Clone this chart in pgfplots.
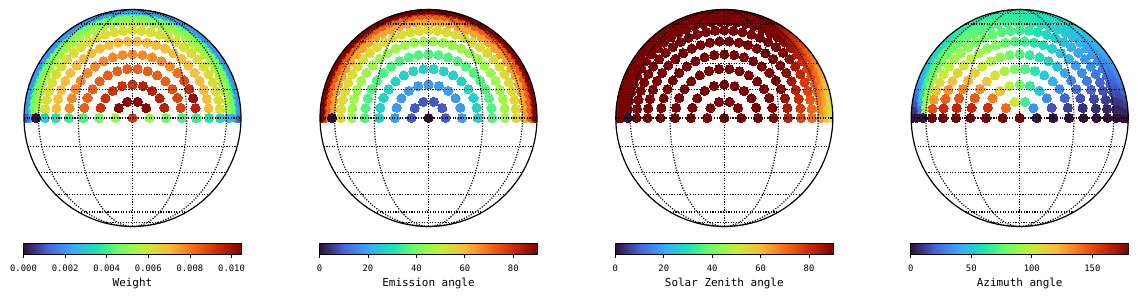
\documentclass[border=0pt]{standalone}
\usepackage{fontspec}
\setmainfont{DejaVu Sans Mono}
\usepackage{pgfplots}
\usepackage{pgfplotstable}
\pgfplotsset{compat=1.18}

% turbo colormap, sampled at ten equally spaced stops
\pgfplotsset{
  colormap={turbo}{rgb255=(48,18,59) rgb255=(70,98,215) rgb255=(54,170,249)
    rgb255=(26,228,182) rgb255=(114,254,94) rgb255=(199,239,52)
    rgb255=(250,186,57) rgb255=(246,107,25) rgb255=(203,42,4) rgb255=(122,4,3)},
  disk/.style={
    width=217bp, height=217bp, scale only axis,
    xmin=-1, xmax=1, ymin=-1, ymax=1,
    axis line style={draw=none}, ticks=none,
    anchor=center, clip marker paths=true,
    colorbar horizontal,
    colorbar style={
      at={(parent axis.south)}, anchor=north, yshift=-8.1bp,
      width=218bp, height=11bp, scaled x ticks=false,
      axis line style={line width=0.8bp, black},
      xtick pos=left, tick align=outside, major tick length=3.5bp,
      xtick style={line width=0.8bp, black},
      xticklabel style={font=\fontsize{8.9}{10}\selectfont, yshift=-3.5bp},
      xlabel style={font=\fontsize{11}{13}\selectfont},
    },
  },
  pts/.style={scatter, only marks, mark=*, mark size=4.6bp,
    point meta=explicit,
    scatter/use mapped color={draw=mapped color, fill=mapped color},
    mark options={line width=0pt}},
  % position of a direction on the disk from its ring angle and azimuth
  /pgfplots/table/diskxy/.style={
    x expr={sin(\thisrow{e})*cos(\thisrow{phi})},
    y expr={sin(\thisrow{e})*sin(\thisrow{phi})}},
}

% sample directions: ring angle e, azimuth phi on the disk,
% quadrature weight w, solar zenith angle sza, relative azimuth az
\pgfplotstableread{
e phi w sza az
0 0 0.0090 90 180
9 0 0.0052 90 0
9 36 0.0103 90 34
9 72 0.0103 90 68
9 108 0.0103 90 103
9 144 0.0103 90 141
9 180 0.0052 90 180
18 0 0.0046 90 0
18 18 0.0096 90 16
18 36 0.0096 90 32
18 54 0.0096 90 49
18 72 0.0096 90 65
18 90 0.0092 90 81
18 108 0.0092 90 98
18 126 0.0092 90 116
18 144 0.0092 90 136
18 162 0.0092 90 158
18 180 0.0046 90 180
27 0 0.0042 88 0
27 12 0.0089 90 11
27 24 0.0089 90 21
27 36 0.0087 90 32
27 48 0.0084 90 42
27 60 0.0084 90 52
27 72 0.0084 90 62
27 84 0.0084 90 72
27 96 0.0084 90 82
27 108 0.0084 90 93
27 120 0.0084 90 104
27 132 0.0084 90 116
27 144 0.0084 90 130
27 156 0.0084 90 145
27 168 0.0084 90 162
27 180 0.0042 90 180
36 0 0.0039 82 0
36 9 0.0096 84 8
36 18 0.0101 86 16
36 27 0.0093 89 24
36 36 0.0087 90 32
36 45 0.0081 90 39
36 54 0.0077 90 46
36 63 0.0077 90 53
36 72 0.0077 90 60
36 81 0.0077 90 67
36 90 0.0077 90 73
36 99 0.0077 90 80
36 108 0.0077 90 87
36 117 0.0077 90 94
36 126 0.0077 90 102
36 135 0.0077 90 111
36 144 0.0077 90 121
36 153 0.0077 90 133
36 162 0.0077 90 147
36 171 0.0077 90 163
36 180 0.0039 90 180
45 0 0.0035 76 0
45 7.2 0.0069 78 7
45 14.4 0.0069 80 13
45 21.6 0.0069 82 20
45 28.8 0.0069 85 26
45 36 0.0069 88 32
45 43.2 0.0069 90 38
45 50.4 0.0069 90 44
45 57.6 0.0069 90 49
45 64.8 0.0069 90 54
45 72 0.0069 90 59
45 79.2 0.0069 90 63
45 86.4 0.0069 90 68
45 93.6 0.0069 90 72
45 100.8 0.0069 90 77
45 108 0.0069 90 82
45 115.2 0.0069 90 86
45 122.4 0.0069 90 91
45 129.6 0.0069 90 97
45 136.8 0.0069 90 103
45 144 0.0069 90 110
45 151.2 0.0069 90 118
45 158.4 0.0069 90 129
45 165.6 0.0069 90 143
45 172.8 0.0069 90 160
45 180 0.0035 90 180
54 0 0.0031 70 0
54 6 0.0062 71 5
54 12 0.0062 73 11
54 18 0.0062 76 16
54 24 0.0062 78 21
54 30 0.0062 81 26
54 36 0.0062 84 31
54 42 0.0062 87 35
54 48 0.0062 90 40
54 54 0.0062 90 44
54 60 0.0062 90 48
54 66 0.0062 90 53
54 72 0.0062 90 56
54 78 0.0062 90 60
54 84 0.0062 90 64
54 90 0.0062 90 68
54 96 0.0062 90 71
54 102 0.0062 90 74
54 108 0.0062 90 76
54 114 0.0062 90 79
54 120 0.0062 90 82
54 126 0.0062 90 85
54 132 0.0062 90 89
54 138 0.0062 90 92
54 144 0.0062 90 96
54 150 0.0062 90 101
54 156 0.0062 90 107
54 162 0.0062 90 115
54 168 0.0062 90 128
54 174 0.0062 90 149
54 180 0.0031 90 180
63 0 0.0027 64 0
63 5.14 0.0054 66 5
63 10.29 0.0054 68 9
63 15.43 0.0054 70 15
63 20.57 0.0054 72 19
63 25.71 0.0054 75 23
63 30.86 0.0054 77 27
63 36 0.0054 80 32
63 41.14 0.0054 83 35
63 46.29 0.0054 86 39
63 51.43 0.0054 89 43
63 56.57 0.0054 90 46
63 61.71 0.0054 90 49
63 66.86 0.0054 90 53
63 72 0.0054 90 55
63 77.14 0.0054 90 58
63 82.29 0.0054 90 62
63 87.43 0.0054 90 65
63 92.57 0.0054 90 67
63 97.71 0.0054 90 68
63 102.86 0.0054 90 70
63 108 0.0054 90 72
63 113.14 0.0054 90 73
63 118.29 0.0054 90 75
63 123.43 0.0054 90 76
63 128.57 0.0054 90 78
63 133.71 0.0054 90 79
63 138.86 0.0054 90 80
63 144 0.0054 90 82
63 149.14 0.0054 90 83
63 154.29 0.0054 90 84
63 159.43 0.0054 90 85
63 164.57 0.0054 90 87
63 169.71 0.0054 90 88
63 174.86 0.0054 90 89
63 180 0.0027 90 0
72 0 0.0023 59 0
72 4.5 0.0046 60 5
72 9 0.0046 62 9
72 13.5 0.0046 64 14
72 18 0.0046 66 18
72 22.5 0.0046 69 21
72 27 0.0046 71 25
72 31.5 0.0046 74 29
72 36 0.0046 76 33
72 40.5 0.0046 79 36
72 45 0.0046 82 39
72 49.5 0.0046 85 42
72 54 0.0046 88 45
72 58.5 0.0046 90 47
72 63 0.0046 90 50
72 67.5 0.0046 90 53
72 72 0.0046 90 55
72 76.5 0.0046 90 57
72 81 0.0046 90 60
72 85.5 0.0046 90 62
72 90 0.0046 90 64
72 94.5 0.0046 90 66
72 99 0.0046 90 67
72 103.5 0.0046 90 69
72 108 0.0046 90 70
72 112.5 0.0046 90 71
72 117 0.0046 90 72
72 121.5 0.0046 90 73
72 126 0.0046 90 74
72 130.5 0.0046 90 75
72 135 0.0046 90 74
72 139.5 0.0046 90 74
72 144 0.0046 90 74
72 148.5 0.0046 90 73
72 153 0.0046 90 71
72 157.5 0.0046 90 69
72 162 0.0046 90 64
72 166.5 0.0046 90 57
72 171 0.0046 90 45
72 175.5 0.0046 90 26
72 180 0.0023 90 0
81 0 0.0018 54 0
81 4 0.0036 56 5
81 8 0.0036 57 9
81 12 0.0036 59 14
81 16 0.0036 61 17
81 20 0.0036 63 21
81 24 0.0036 66 25
81 28 0.0036 68 28
81 32 0.0036 70 32
81 36 0.0036 73 34
81 40 0.0036 76 37
81 44 0.0036 78 40
81 48 0.0036 81 42
81 52 0.0036 84 45
81 56 0.0036 86 47
81 60 0.0036 89 49
81 64 0.0036 90 52
81 68 0.0036 90 53
81 72 0.0036 90 55
81 76 0.0036 90 57
81 80 0.0036 90 59
81 84 0.0036 90 60
81 88 0.0036 90 62
81 92 0.0036 90 64
81 96 0.0036 90 65
81 100 0.0036 90 65
81 104 0.0036 90 66
81 108 0.0036 90 66
81 112 0.0036 90 67
81 116 0.0036 90 67
81 120 0.0036 90 68
81 124 0.0036 90 67
81 128 0.0036 90 68
81 132 0.0036 90 67
81 136 0.0036 90 66
81 140 0.0036 90 64
81 144 0.0036 90 63
81 148 0.0036 90 61
81 152 0.0036 90 58
81 156 0.0036 90 54
81 160 0.0036 90 49
81 164 0.0036 90 42
81 168 0.0036 90 35
81 172 0.0036 90 25
81 176 0.0036 90 12
81 180 0.0018 90 0
90 0 0.0010 50 0
90 3.6 0.0020 52 5
90 7.2 0.0020 53 11
90 10.8 0.0020 55 15
90 14.4 0.0020 57 20
90 18 0.0020 59 24
90 21.6 0.0020 61 28
90 25.2 0.0020 63 31
90 28.8 0.0020 65 34
90 32.4 0.0020 68 36
90 36 0.0020 70 39
90 39.6 0.0020 72 41
90 43.2 0.0020 75 43
90 46.8 0.0020 77 46
90 50.4 0.0020 80 48
90 54 0.0020 82 49
90 57.6 0.0020 85 51
90 61.2 0.0020 87 53
90 64.8 0.0020 90 55
90 68.4 0.0020 90 55
90 72 0.0020 90 57
90 75.6 0.0020 90 58
90 79.2 0.0020 90 60
90 82.8 0.0020 90 61
90 86.4 0.0020 90 62
90 90 0.0020 90 63
90 93.6 0.0020 90 63
90 97.2 0.0020 90 64
90 100.8 0.0020 90 64
90 104.4 0.0020 90 64
90 108 0.0020 90 64
90 111.6 0.0020 90 64
90 115.2 0.0020 90 64
90 118.8 0.0020 90 63
90 122.4 0.0020 90 63
90 126 0.0020 90 62
90 129.6 0.0020 90 61
90 133.2 0.0020 90 60
90 136.8 0.0020 90 58
90 140.4 0.0020 90 56
90 144 0.0020 90 54
90 147.6 0.0020 90 51
90 151.2 0.0020 90 48
90 154.8 0.0020 90 44
90 158.4 0.0020 90 40
90 162 0.0020 90 35
90 165.6 0.0020 90 29
90 169.2 0.0020 90 22
90 172.8 0.0020 90 16
90 176.4 0.0020 90 8
90 180 0.0010 90 0
}\samples

% sub-solar point, drawn on top with zero value in every panel
\pgfplotstableread{
e phi v
63 180 0
}\subsolar

% dotted graticule and outline of the disk
\newcommand\graticule[1]{%
  \begin{scope}[shift={(#1)}, x=108.5bp, y=108.5bp]
    \begin{scope}[black, line width=1.15bp, dash pattern=on 1.15bp off 1.5bp]
      \foreach \lat in {-75,-60,-45,-30,-15,0,15,30,45,60,75}
        \draw ({-cos(\lat)},{sin(\lat)}) -- ({cos(\lat)},{sin(\lat)});
      \draw (0,-1) -- (0,1);
      \draw (0,0) ellipse [x radius=0.5, y radius=1];
      \draw (0,0) ellipse [x radius=0.866, y radius=1];
    \end{scope}
    \draw[black, line width=1.2bp] (0,0) circle [radius=1];
  \end{scope}}

\begin{document}
\begin{tikzpicture}
\useasboundingbox (0,0) rectangle (1138bp,297bp);

% Weight
\begin{axis}[disk, at={(132.5bp,179bp)},
  point meta min=0, point meta max=0.01048,
  colorbar style={xtick={0,0.002,0.004,0.006,0.008,0.010},
    xticklabels={0.000,0.002,0.004,0.006,0.008,0.010}, xlabel={Weight}}]
  \clip (axis cs:0,0) circle [radius=108.5bp];
  \addplot[pts] table[diskxy, meta=w] {\samples};
  \addplot[pts] table[diskxy, meta=v] {\subsolar};
\end{axis}
\graticule{132.5bp,179bp}

% Emission angle
\begin{axis}[disk, at={(428.5bp,179bp)},
  point meta min=0, point meta max=90,
  colorbar style={xtick={0,20,40,60,80},
    xticklabels={0,20,40,60,80}, xlabel={Emission angle}}]
  \clip (axis cs:0,0) circle [radius=108.5bp];
  \addplot[pts] table[diskxy, meta=e] {\samples};
  \addplot[pts] table[diskxy, meta=v] {\subsolar};
\end{axis}
\graticule{428.5bp,179bp}

% Solar zenith angle
\begin{axis}[disk, at={(724.3bp,179bp)},
  point meta min=0, point meta max=90,
  colorbar style={xtick={0,20,40,60,80},
    xticklabels={0,20,40,60,80}, xlabel={Solar Zenith angle}}]
  \clip (axis cs:0,0) circle [radius=108.5bp];
  \addplot[pts] table[diskxy, meta=sza] {\samples};
  \addplot[pts] table[diskxy, meta=v] {\subsolar};
\end{axis}
\graticule{724.3bp,179bp}

% Azimuth angle
\begin{axis}[disk, at={(1019.7bp,179bp)},
  point meta min=0, point meta max=180,
  colorbar style={xtick={0,50,100,150},
    xticklabels={0,50,100,150}, xlabel={Azimuth angle}}]
  \clip (axis cs:0,0) circle [radius=108.5bp];
  \addplot[pts] table[diskxy, meta=az] {\samples};
  \addplot[pts] table[diskxy, meta=v] {\subsolar};
\end{axis}
\graticule{1019.7bp,179bp}
\end{tikzpicture}
\end{document}
